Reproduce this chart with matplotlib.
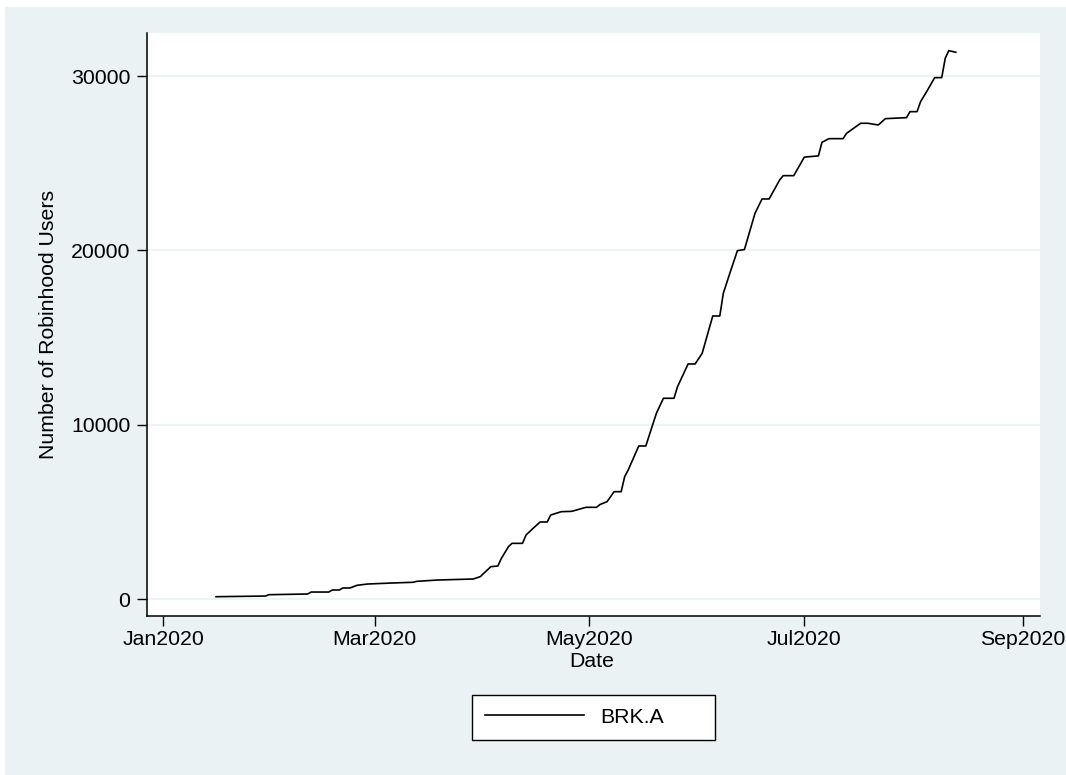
import pandas as pd
import matplotlib
matplotlib.use("Agg")
import matplotlib.pyplot as plt
import matplotlib.dates as mdates
from matplotlib.patches import Rectangle

plt.rcParams['font.family'] = ['Liberation Sans', 'DejaVu Sans']

# Robinhood users holding BRK.A
dates = [
    "2020-01-16", "2020-01-30", "2020-01-31", "2020-02-11", "2020-02-12",
    "2020-02-17", "2020-02-18", "2020-02-20", "2020-02-21", "2020-02-23",
    "2020-02-25", "2020-02-28", "2020-03-06", "2020-03-12", "2020-03-13",
    "2020-03-19", "2020-03-29", "2020-03-31", "2020-04-03", "2020-04-05",
    "2020-04-06", "2020-04-08", "2020-04-09", "2020-04-12", "2020-04-13",
    "2020-04-15", "2020-04-17", "2020-04-19", "2020-04-20", "2020-04-23",
    "2020-04-26", "2020-04-28", "2020-04-30", "2020-05-03", "2020-05-04",
    "2020-05-06", "2020-05-08", "2020-05-10", "2020-05-11", "2020-05-12",
    "2020-05-15", "2020-05-17", "2020-05-20", "2020-05-22", "2020-05-25",
    "2020-05-26", "2020-05-29", "2020-05-31", "2020-06-02", "2020-06-05",
    "2020-06-07", "2020-06-08", "2020-06-10", "2020-06-12", "2020-06-14",
    "2020-06-17", "2020-06-19", "2020-06-21", "2020-06-24", "2020-06-25",
    "2020-06-28", "2020-07-01", "2020-07-05", "2020-07-06", "2020-07-08",
    "2020-07-12", "2020-07-13", "2020-07-17", "2020-07-19", "2020-07-22",
    "2020-07-24", "2020-07-30", "2020-07-31", "2020-08-02", "2020-08-03",
    "2020-08-05", "2020-08-07", "2020-08-09", "2020-08-10", "2020-08-11",
    "2020-08-13",
]
users = [
    132, 170, 247, 287, 400,
    400, 516, 516, 631, 631,
    784, 860, 918, 960, 1014,
    1090, 1147, 1281, 1855, 1893,
    2333, 3000, 3193, 3193, 3672,
    4054, 4418, 4418, 4819, 5009,
    5030, 5145, 5260, 5260, 5420,
    5584, 6157, 6157, 7018, 7401,
    8778, 8778, 10654, 11515, 11515,
    12180, 13483, 13483, 14096, 16236,
    16236, 17539, 18778, 19983, 20050,
    22129, 22949, 22949, 24039, 24286,
    24286, 25350, 25420, 26200, 26409,
    26409, 26718, 27292, 27292, 27194,
    27556, 27614, 27958, 27958, 28532,
    29203, 29909, 29909, 31021, 31457,
    31365,
]
x_ticks = ["2020-01-01", "2020-03-01", "2020-05-01", "2020-07-01", "2020-09-01"]
y_ticks = [0, 10000, 20000, 30000]

df = pd.DataFrame({'date': pd.to_datetime(dates), 'users': users})

bg = '#EAF2F3'
fig = plt.figure(figsize=(10.66, 7.75), dpi=100, facecolor='white')
fig.patches.append(Rectangle((5 / 1066, 0), 1, (775 - 7) / 775,
                             transform=fig.transFigure, facecolor=bg,
                             edgecolor='none', zorder=-10))

ax = fig.add_axes([147 / 1066, (775 - 616) / 775, 893 / 1066, 583 / 775])
ax.set_facecolor('white')

ax.plot(df['date'], df['users'], color='black', lw=1.2, label='BRK.A')

t0 = pd.Timestamp("2020-01-01")
ax.set_xlim(t0 + pd.Timedelta(days=-4.6), t0 + pd.Timedelta(days=248.9))
ax.set_ylim(-975, 32470)

ax.set_xticks(pd.to_datetime(x_ticks))
ax.xaxis.set_major_formatter(mdates.DateFormatter('%b%Y'))
ax.set_yticks(y_ticks)
ax.set_yticklabels([str(v) for v in y_ticks])

ax.grid(axis='y', color=bg, lw=1.2)
ax.set_axisbelow(True)
for s in ['top', 'right']:
    ax.spines[s].set_visible(False)
for s in ['left', 'bottom']:
    ax.spines[s].set_linewidth(1.1)
ax.tick_params(axis='both', length=7, width=1.0, labelsize=15.3, color='black')
ax.tick_params(axis='y', pad=5)
ax.tick_params(axis='x', pad=3)

ax.set_xlabel('Date', fontsize=15.3)
ax.xaxis.set_label_coords(0.4976, -0.062)
ax.set_ylabel('Number of Robinhood Users', fontsize=15.3)
ax.yaxis.set_label_coords(-0.1, 0.5)

leg = fig.legend(loc='center',
                 bbox_to_anchor=(471.7 / 1066, (775 - 741.7) / 775, 243.3 / 1066, 49 / 775),
                 mode='expand', borderaxespad=0, fontsize=15.3, handlelength=4.65,
                 handletextpad=0.8, borderpad=0.62, fancybox=False, framealpha=1,
                 edgecolor='black', facecolor='white')
leg.get_frame().set_linewidth(1.0)

fig.savefig('out.png', dpi=100, facecolor='white')
